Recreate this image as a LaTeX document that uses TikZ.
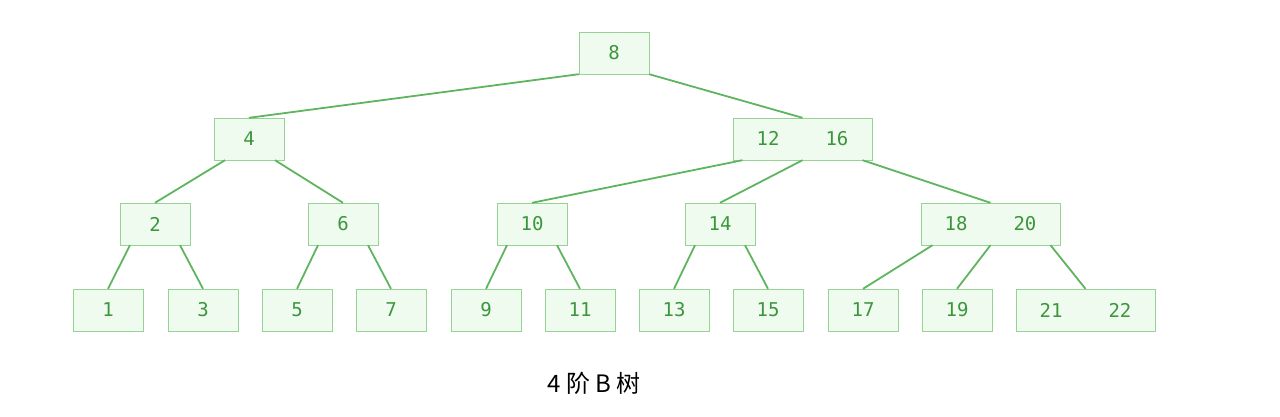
\documentclass[tikz,border=0pt]{standalone}
\usepackage{fontspec}
\setmonofont{DejaVu Sans Mono}
\newfontfamily\cjk{Noto Sans CJK SC}
\usetikzlibrary{calc}
\definecolor{keyfill}{RGB}{238, 251, 238}
\definecolor{keyborder}{RGB}{150, 212, 150}
\definecolor{keytext}{RGB}{60, 150, 60}
\definecolor{linkcolor}{RGB}{95, 180, 95}

\begin{document}
\begin{tikzpicture}[x=1pt, y=-1pt,
    keybox/.style={draw=keyborder, fill=keyfill, text=keytext, font=\ttfamily\fontsize{19}{19}\selectfont, minimum height=42pt, inner sep=0pt},
    onekey/.style={keybox, minimum width=70pt},
    twokey/.style={keybox, minimum width=139pt},
    link/.style={linkcolor, line width=1.8pt}]
    \useasboundingbox (0,0) rectangle (1280,416);

    % Root
    \node[onekey] (n8) at (614,53) {8};

    % Level 1
    \node[onekey] (n4) at (249,139) {4};
    \node[twokey] (n1216) at (802.5,139) {12\hspace{46pt}16};

    % Level 2
    \node[onekey] (n2) at (155,224) {2};
    \node[onekey] (n6) at (343,224) {6};
    \node[onekey] (n10) at (532,224) {10};
    \node[onekey] (n14) at (720,224) {14};
    \node[twokey] (n1820) at (990.5,224) {18\hspace{46pt}20};

    % Leaves
    \foreach \k/\x in {1/108, 3/203, 5/297, 7/391, 9/486, 11/580, 13/674, 15/768, 17/863, 19/957}
        \node[onekey] (n\k) at (\x,310) {\k};
    \node[twokey] (n2122) at (1085.5,310) {21\hspace{46pt}22};

    % Links
    \draw[link] (n8.south west) -- (n4.north);
    \draw[link] (n8.south east) -- (n1216.north);
    \draw[link] ($(n4.south)+(-24,0)$) -- (n2.north);
    \draw[link] ($(n4.south)+(26,0)$) -- (n6.north);
    \draw[link] ($(n1216.south)+(-60,0)$) -- (n10.north);
    \draw[link] (n1216.south) -- (n14.north);
    \draw[link] ($(n1216.south)+(60,0)$) -- (n1820.north);
    \foreach \p/\a/\b in {2/1/3, 6/5/7, 10/9/11, 14/13/15} {
        \draw[link] ($(n\p.south)+(-25,0)$) -- (n\a.north);
        \draw[link] ($(n\p.south)+(25,0)$) -- (n\b.north);
    }
    \draw[link] ($(n1820.south)+(-58,0)$) -- (n17.north);
    \draw[link] (n1820.south) -- (n19.north);
    \draw[link] ($(n1820.south)+(60,0)$) -- (n2122.north);

    % Caption
    \node[font=\cjk\fontsize{24}{24}\selectfont] (title) at (594,383) {4 阶 B 树};
\end{tikzpicture}
\end{document}
